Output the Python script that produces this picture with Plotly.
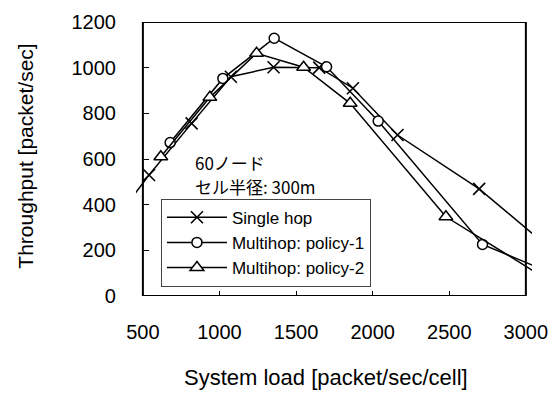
import plotly.graph_objects as go

# ---- data ----
single_x = [400, 540, 818, 1074, 1353, 1651, 1871, 2162, 2695, 3200]
single_y = [406, 530, 756, 960, 1002, 1000, 910, 705, 469, 185]

policy1_x = [678, 1022, 1357, 1699, 2036, 2717, 3200]
policy1_y = [672, 953, 1129, 1004, 766, 226, 91]

policy2_x = [617, 937, 1242, 1549, 1853, 2478, 3200]
policy2_y = [610, 870, 1063, 1002, 844, 347, 47]

x_ticks = [500, 1000, 1500, 2000, 2500, 3000]
y_ticks = [0, 200, 400, 600, 800, 1000, 1200]

X_RANGE = [455, 3040]
Y_RANGE = [0, 1200]

FONT = "Liberation Sans, Arial, sans-serif"
JFONT = "Noto Sans CJK JP, sans-serif"

fig = go.Figure()
fig.add_trace(go.Scatter(
    x=single_x, y=single_y, mode="lines+markers", name="Single hop",
    line=dict(color="black", width=1.5),
    marker=dict(symbol="x-thin", size=12, line=dict(color="black", width=1.6), color="black"),
    legendgroup="a",
))
fig.add_trace(go.Scatter(
    x=policy1_x, y=policy1_y, mode="lines+markers", name="Multihop: policy-1",
    line=dict(color="black", width=1.5),
    marker=dict(symbol="circle", size=10, color="white", line=dict(color="black", width=1.5)),
    legendgroup="b",
))
fig.add_trace(go.Scatter(
    x=policy2_x, y=policy2_y, mode="lines+markers", name="Multihop: policy-2",
    line=dict(color="black", width=1.5),
    marker=dict(symbol="triangle-up", size=12, color="white", line=dict(color="black", width=1.5)),
    legendgroup="c",
))

frame_pos = (x_ticks[0] - X_RANGE[0]) / (X_RANGE[1] - X_RANGE[0])

fig.update_layout(
    width=549, height=394,
    margin=dict(l=136, r=17, t=22, b=98),
    paper_bgcolor="white", plot_bgcolor="white",
    font=dict(family=FONT, color="black"),
    showlegend=True,
    legend=dict(
        x=0.063, y=0.355, xanchor="left", yanchor="top",
        bgcolor="white", bordercolor="#444", borderwidth=1,
        font=dict(family=FONT, size=17, color="black"),
        tracegroupgap=0, itemwidth=60,
    ),
    xaxis=dict(
        range=X_RANGE, tickvals=x_ticks, ticktext=[str(v) for v in x_ticks],
        ticks="inside", ticklen=5, tickcolor="black", tickwidth=1,
        showline=False, showgrid=False, zeroline=False,
        tickfont=dict(family=FONT, size=20, color="black"),
        ticklabelstandoff=22, automargin=False,
    ),
    yaxis=dict(
        range=Y_RANGE, tickvals=y_ticks, ticktext=[str(v) for v in y_ticks],
        anchor="free", position=frame_pos,
        ticks="inside", ticklen=5, tickcolor="black", tickwidth=1,
        showline=False, showgrid=False, zeroline=False,
        tickfont=dict(family=FONT, size=20, color="black"),
        ticklabelstandoff=27, automargin=False,
    ),
)

# plot frame
fig.add_shape(type="rect", xref="x", yref="y",
              x0=x_ticks[0], x1=x_ticks[-1], y0=Y_RANGE[0], y1=Y_RANGE[1],
              line=dict(color="black", width=2), fillcolor="rgba(0,0,0,0)", layer="above")

# axis titles
fig.add_annotation(text="System load [packet/sec/cell]", xref="paper", yref="paper",
                   x=0.48, y=-0.299, xanchor="center", yanchor="middle", showarrow=False,
                   font=dict(family=FONT, size=22, color="black"))
fig.add_annotation(text="Throughput [packet/sec]", xref="paper", yref="paper",
                   x=-0.280, y=0.509, xanchor="center", yanchor="middle", showarrow=False,
                   textangle=-90, font=dict(family=FONT, size=21, color="black"))

# in-plot notes
fig.add_annotation(text="60ノード", xref="paper", yref="paper",
                   x=0.143, y=0.489, xanchor="left", yanchor="middle", showarrow=False,
                   font=dict(family=JFONT, size=17, color="black"))
fig.add_annotation(text="セル半径: 300m", xref="paper", yref="paper",
                   x=0.143, y=0.399, xanchor="left", yanchor="middle", showarrow=False,
                   font=dict(family=JFONT, size=17, color="black"))

fig.write_html("out.html")
